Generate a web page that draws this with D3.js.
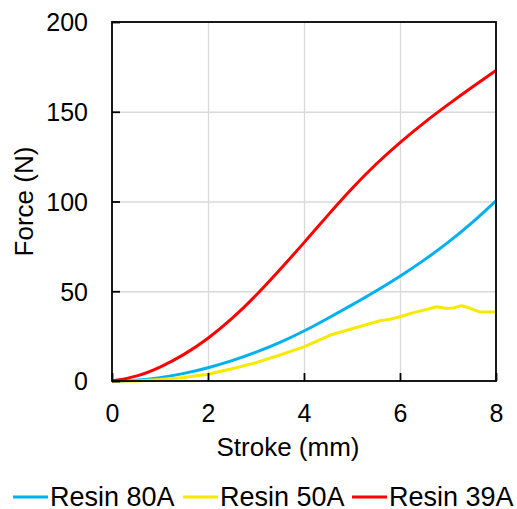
<!DOCTYPE html>
<html>
<head>
<meta charset="utf-8">
<script src="https://cdn.jsdelivr.net/npm/d3@7"></script>
<style>
    body { margin: 0; background: #fff; }
    svg { display: block; font-family: "Liberation Sans", Arial, sans-serif; }
</style>
</head>
<body>
<svg width="517" height="509"></svg>
<script>
// data
var seriesNames = ["Resin 80A", "Resin 50A", "Resin 39A"];
var seriesColors = ["#00b0f0", "#f5ea00", "#ff0000"];

var stroke80 = [0, 0.5, 1, 1.5, 2, 2.5, 3, 3.5, 4, 4.5, 5, 5.5, 6, 6.5, 7, 7.5, 8];
var force80 = [0, 0.3, 1.7, 4.1, 7.3, 11.2, 15.9, 21.4, 27.7, 34.9, 42.4, 50.1, 58.3, 67.2, 77, 88, 100.4];

var stroke50 = [0, 0.5, 1, 1.5, 2, 2.5, 3, 3.5, 4, 4.55, 5, 5.58, 5.79, 6, 6.28, 6.56, 6.76, 6.94, 7.11, 7.28, 7.46, 7.67, 8];
var force50 = [0, 0, 0.8, 2, 3.8, 6.8, 10.2, 14.5, 19, 25.6, 29.1, 33.6, 34.4, 35.8, 38.1, 39.9, 41.4, 40.5, 40.7, 42, 40.5, 38.4, 38.4];

var stroke39 = [0, 0.5, 1, 1.5, 2, 2.5, 3, 3.5, 4, 4.5, 5, 5.5, 6, 6.5, 7, 7.5, 8];
var force39 = [0, 2.2, 7.5, 14.5, 23.5, 34.5, 47.5, 62, 77, 92.5, 107.5, 121, 133, 144, 154, 163.7, 173];

var xTicks = [0, 2, 4, 6, 8];
var yTicks = [0, 50, 100, 150, 200];

var margin = { top: 22, right: 21, bottom: 128, left: 112 };
var W = 517, H = 509;
var w = W - margin.left - margin.right,
    h = H - margin.top - margin.bottom;

var svg = d3.select("svg");
var g = svg.append("g").attr("transform", "translate(" + margin.left + "," + margin.top + ")");

var x = d3.scaleLinear().domain([0, 8]).range([0, w]);
var y = d3.scaleLinear().domain([0, 200]).range([h, 0]);

// grid
g.append("g")
    .attr("transform", "translate(0," + h + ")")
    .call(d3.axisBottom(x).tickValues(xTicks.slice(1, -1)).tickSize(-h).tickFormat(""))
    .call(s => s.select(".domain").remove())
    .selectAll("line").attr("stroke", "#d9d9d9").attr("stroke-width", 1.3);
g.append("g")
    .call(d3.axisLeft(y).tickValues(yTicks.slice(1, -1)).tickSize(-w).tickFormat(""))
    .call(s => s.select(".domain").remove())
    .selectAll("line").attr("stroke", "#d9d9d9").attr("stroke-width", 1.3);

// curves
var lineSmooth = d3.line().x(d => x(d[0])).y(d => y(d[1])).curve(d3.curveBasis);
var lineRough = d3.line().x(d => x(d[0])).y(d => y(d[1]));

var series = [
    { pts: d3.zip(stroke80, force80), gen: lineSmooth },
    { pts: d3.zip(stroke50, force50), gen: lineRough },
    { pts: d3.zip(stroke39, force39), gen: lineSmooth }
];

g.selectAll("path.curve")
    .data(series)
    .enter()
    .append("path")
    .attr("class", "curve")
    .attr("d", d => d.gen(d.pts))
    .attr("fill", "none")
    .attr("stroke", (d, i) => seriesColors[i])
    .attr("stroke-width", 3)
    .attr("stroke-linejoin", "round");

// frame
g.append("rect")
    .attr("width", w).attr("height", h)
    .attr("fill", "none").attr("stroke", "#000").attr("stroke-width", 1.8);

// axes, ticks inside
var xAxis = g.append("g")
    .attr("transform", "translate(0," + h + ")")
    .call(d3.axisBottom(x).tickValues(xTicks).tickSize(-8).tickPadding(23));
var yAxis = g.append("g")
    .call(d3.axisLeft(y).tickValues(yTicks).tickSize(-8).tickPadding(24));

[xAxis, yAxis].forEach(a => {
    a.select(".domain").remove();
    a.selectAll("line").attr("stroke", "#000").attr("stroke-width", 1.8);
    a.selectAll("text").attr("fill", "#000").style("font-size", "25px")
        .style("font-family", "'Liberation Sans', Arial, sans-serif");
});
yAxis.selectAll("text").attr("dy", "0.35em");

// titles
svg.append("text")
    .attr("x", 288).attr("y", 456)
    .attr("text-anchor", "middle")
    .style("font-size", "26px")
    .text("Stroke (mm)");

svg.append("text")
    .attr("transform", "translate(33," + (margin.top + h / 2) + ") rotate(-90)")
    .attr("text-anchor", "middle")
    .style("font-size", "26px")
    .text("Force (N)");

// legend
var legendX = [13, 183, 352];
var legend = svg.selectAll("g.leg")
    .data(seriesNames)
    .enter()
    .append("g")
    .attr("class", "leg")
    .attr("transform", (d, i) => "translate(" + legendX[i] + ",497)");

legend.append("line")
    .attr("x1", 0).attr("x2", 35)
    .attr("stroke", (d, i) => seriesColors[i])
    .attr("stroke-width", 3);

legend.append("text")
    .attr("x", 37).attr("y", 9)
    .style("font-size", "27px")
    .text(d => d);
</script>
</body>
</html>
